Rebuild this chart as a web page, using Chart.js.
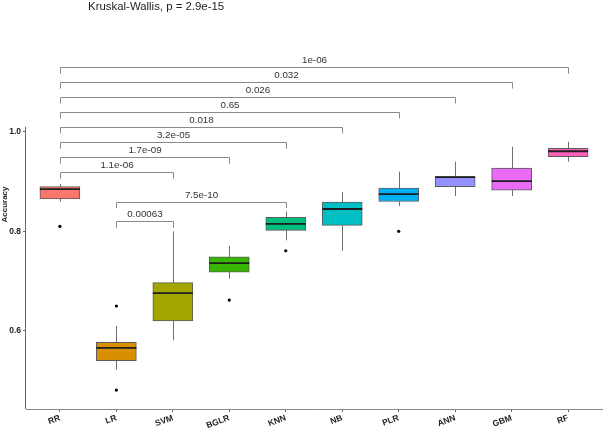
<!DOCTYPE html>
<html>
<head>
<meta charset="utf-8">
<script src="https://cdn.jsdelivr.net/npm/chart.js@4.4.1/dist/chart.umd.min.js"></script>
<style>
  html, body { margin: 0; padding: 0; background: #fff; }
  #wrap { width: 603px; height: 429px; position: relative; }
</style>
</head>
<body>
<div id="wrap"><canvas id="chart"></canvas></div>
<script>
// box statistics
const categories = ['RR', 'LR', 'SVM', 'BGLR', 'KNN', 'NB', 'PLR', 'ANN', 'GBM', 'RF'];
const whiskerLow  = [0.860, 0.522, 0.581, 0.705, 0.782, 0.761, 0.851, 0.871, 0.871, 0.940];
const q1          = [0.865, 0.540, 0.620, 0.718, 0.802, 0.812, 0.860, 0.890, 0.883, 0.950];
const median      = [0.885, 0.566, 0.676, 0.736, 0.815, 0.845, 0.875, 0.909, 0.901, 0.961];
const q3          = [0.890, 0.577, 0.697, 0.749, 0.828, 0.859, 0.887, 0.910, 0.927, 0.967];
const whiskerHigh = [0.895, 0.610, 0.800, 0.771, 0.840, 0.879, 0.920, 0.940, 0.970, 0.980];
const outliers    = [[0.810], [0.650, 0.481], [], [0.662], [0.761], [], [0.800], [], [], []];

// pairwise comparisons (wilcoxon p values) and their bracket heights
const pairFrom  = ['RR', 'RR', 'RR', 'RR', 'RR', 'RR', 'RR', 'RR', 'LR', 'LR'];
const pairTo    = ['RF', 'GBM', 'ANN', 'PLR', 'NB', 'KNN', 'BGLR', 'SVM', 'KNN', 'SVM'];
const pLabels   = ['1e-06', '0.032', '0.026', '0.65', '0.018', '3.2e-05', '1.7e-09', '1.1e-06', '7.5e-10', '0.00063'];
const bracketY  = [1.130, 1.100, 1.070, 1.040, 1.010, 0.979, 0.949, 0.919, 0.860, 0.820];

const yTicks = [0.6, 0.8, 1.0];
const globalTest = 'Kruskal-Wallis, p = 2.9e-15';

const boxColors = ['#F8766D', '#D89000', '#A3A500', '#39B600', '#00BF7D',
                   '#00BFC4', '#00B0F6', '#9590FF', '#E76BF3', '#FF62BC'];
const FONT = "'Liberation Sans', Arial, sans-serif";

const outlierPoints = [];
outliers.forEach((vals, i) => vals.forEach(v => outlierPoints.push({ x: i, y: v })));

const boxExtras = {
    id: 'boxExtras',
    beforeDatasetsDraw(chart) {
        const { ctx, chartArea, scales: { x, y } } = chart;
        ctx.save();
        // whiskers
        ctx.strokeStyle = '#6f6f6f';
        ctx.lineWidth = 1;
        categories.forEach((c, i) => {
            const px = Math.round(x.getPixelForValue(i)) + 0.5;
            ctx.beginPath();
            ctx.moveTo(px, y.getPixelForValue(whiskerHigh[i]));
            ctx.lineTo(px, y.getPixelForValue(q3[i]));
            ctx.moveTo(px, y.getPixelForValue(q1[i]));
            ctx.lineTo(px, y.getPixelForValue(whiskerLow[i]));
            ctx.stroke();
        });
        // y axis line, only over the data range
        ctx.strokeStyle = '#666';
        const ax = Math.round(chartArea.left) - 0.5;
        ctx.beginPath();
        ctx.moveTo(ax, y.getPixelForValue(1.01));
        ctx.lineTo(ax, chartArea.bottom);
        ctx.stroke();
        ctx.restore();
    },
    afterDatasetsDraw(chart) {
        const { ctx, scales: { x, y } } = chart;
        ctx.save();
        // medians
        ctx.strokeStyle = '#1e1e1e';
        ctx.lineWidth = 1.8;
        categories.forEach((c, i) => {
            const px = x.getPixelForValue(i);
            const py = y.getPixelForValue(median[i]);
            ctx.beginPath();
            ctx.moveTo(px - 20, py);
            ctx.lineTo(px + 20, py);
            ctx.stroke();
        });
        // comparison brackets
        ctx.strokeStyle = '#8a8a8a';
        ctx.lineWidth = 1;
        ctx.fillStyle = '#333';
        ctx.font = '9.8px ' + FONT;
        ctx.textAlign = 'center';
        ctx.textBaseline = 'bottom';
        pLabels.forEach((lab, k) => {
            const x1 = Math.round(x.getPixelForValue(categories.indexOf(pairFrom[k]))) + 0.5;
            const x2 = Math.round(x.getPixelForValue(categories.indexOf(pairTo[k]))) + 0.5;
            const top = Math.round(y.getPixelForValue(bracketY[k])) + 0.5;
            const foot = y.getPixelForValue(bracketY[k] - 0.013);
            ctx.beginPath();
            ctx.moveTo(x1, foot);
            ctx.lineTo(x1, top);
            ctx.lineTo(x2, top);
            ctx.lineTo(x2, foot);
            ctx.stroke();
            ctx.fillText(lab, (x1 + x2) / 2, top - 2);
        });
        // global test label
        ctx.fillStyle = '#222';
        ctx.font = '11.4px ' + FONT;
        ctx.textAlign = 'left';
        ctx.textBaseline = 'alphabetic';
        ctx.fillText(globalTest, x.getPixelForValue(0.5), y.getPixelForValue(1.245));
        ctx.restore();
    }
};

new Chart(document.getElementById('chart'), {
    type: 'bar',
    data: {
        datasets: [
            {
                type: 'bar',
                data: categories.map((c, i) => ({ x: i, y: [q1[i], q3[i]] })),
                backgroundColor: boxColors,
                borderColor: 'rgba(50,50,50,0.8)',
                borderWidth: 1,
                borderSkipped: false,
                barThickness: 40,
                grouped: false,
                order: 2
            },
            {
                type: 'scatter',
                data: outlierPoints,
                pointRadius: 1.6,
                pointHoverRadius: 1.6,
                pointBackgroundColor: '#000',
                pointBorderWidth: 0,
                order: 1
            }
        ]
    },
    options: {
        responsive: true,
        maintainAspectRatio: false,
        animation: false,
        layout: { autoPadding: false, padding: { top: 0, right: 1, bottom: 0, left: 0 } },
        plugins: { legend: { display: false }, tooltip: { enabled: false } },
        scales: {
            x: {
                type: 'linear',
                offset: false,
                min: -0.6,
                max: 9.6,
                afterBuildTicks: s => { s.ticks = categories.map((c, i) => ({ value: i })); },
                afterFit: s => { s.height = 20; s.paddingLeft = 0; s.paddingRight = 0; },
                ticks: {
                    callback: v => categories[v],
                    autoSkip: false,
                    minRotation: 20,
                    maxRotation: 20,
                    padding: 1,
                    color: '#222',
                    font: { family: FONT, weight: 'bold', size: 8.5 }
                },
                grid: { offset: false, drawOnChartArea: false, drawTicks: true, tickLength: 3, color: '#666' },
                border: { display: true, color: '#888' }
            },
            y: {
                type: 'linear',
                min: 0.443,
                max: 1.265,
                afterBuildTicks: s => { s.ticks = yTicks.map(v => ({ value: v })); },
                afterFit: s => { s.width = 26; s.paddingTop = 0; s.paddingBottom = 0; },
                ticks: {
                    callback: v => v.toFixed(1),
                    padding: 2,
                    color: '#222',
                    font: { family: FONT, weight: 'bold', size: 8.5 }
                },
                grid: { drawOnChartArea: false, drawTicks: true, tickLength: 3, color: '#666' },
                border: { display: false },
                title: {
                    display: true,
                    text: 'Accuracy',
                    padding: 0,
                    color: '#222',
                    font: { family: FONT, weight: 'bold', size: 8 }
                }
            }
        }
    },
    plugins: [boxExtras]
});
</script>
</body>
</html>
